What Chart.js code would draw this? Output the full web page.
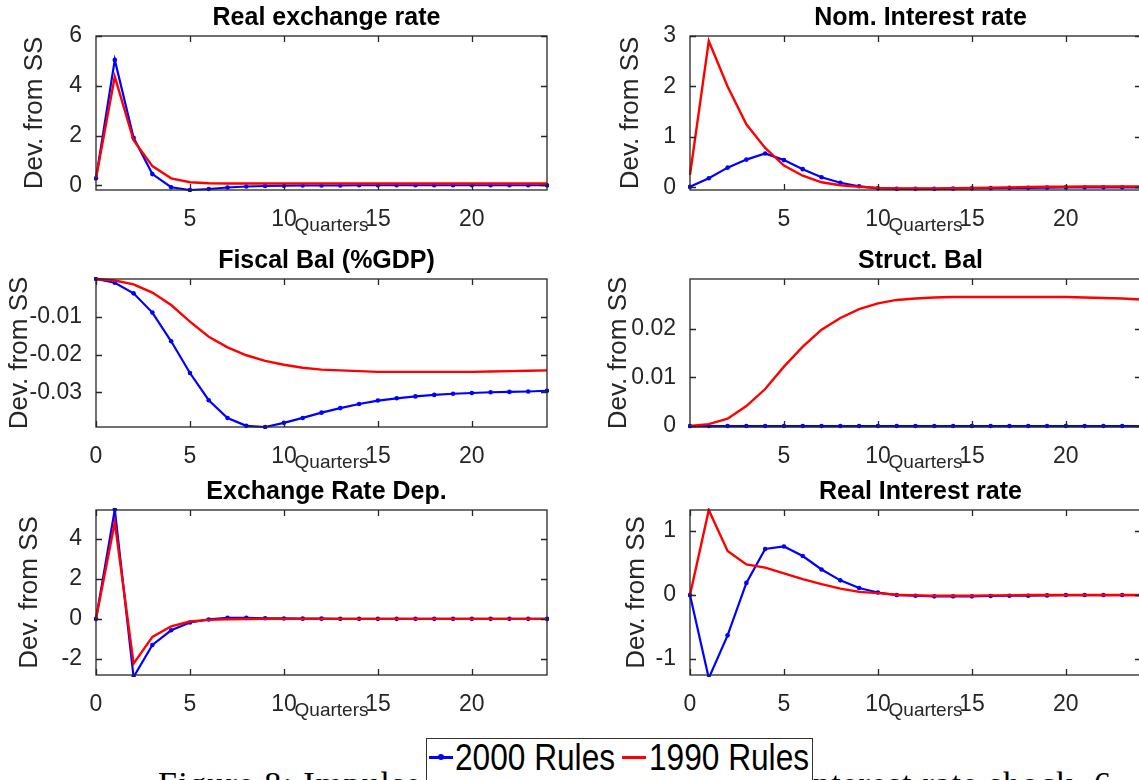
<!DOCTYPE html>
<html>
<head>
<meta charset="utf-8">
<script src="https://cdn.jsdelivr.net/npm/chart.js@4.4.1/dist/chart.umd.min.js"></script>
<style>
  html, body { margin: 0; padding: 0; background: #fff; }
  body { width: 1139px; height: 780px; overflow: hidden; position: relative; }
  canvas { position: absolute; }
  #caption { position: absolute; left: 158px; top: 767px; font: 34px "Liberation Serif", "DejaVu Serif", serif; line-height: 34px; letter-spacing: 1.3px; white-space: nowrap; color: #000; }
  #legend { position: absolute; left: 426px; top: 738px; width: 385px; height: 60px; border: 1.5px solid #333; background: #fff; font: 37px "Liberation Sans", Arial, sans-serif; line-height: 37px; color: #000; }
  #legend .sw { position: absolute; top: 17px; width: 24px; height: 3px; }
  #legend .txt { position: absolute; top: 0px; white-space: nowrap; transform: scaleX(0.855); transform-origin: 0 0; }
  #legend .dot { position: absolute; left: 9px; top: -2px; width: 6px; height: 6px; border-radius: 50%; background: #0000ff; }
</style>
</head>
<body>
<div id="caption">Figure 8: Impulse response functions to an interest rate shock&nbsp;&nbsp;6</div>
<canvas id="p1"></canvas>
<canvas id="p2"></canvas>
<canvas id="p3"></canvas>
<canvas id="p4"></canvas>
<canvas id="p5"></canvas>
<canvas id="p6"></canvas>
<div id="legend">
  <span class="sw" style="left:1.5px;background:#0000ff"><span class="dot"></span></span>
  <span class="txt" style="left:28px">2000 Rules</span>
  <span class="sw" style="left:195px;background:#ff0000"></span>
  <span class="txt" style="left:222px">1990 Rules</span>
</div>
<script>
// quarters after the shock
const quarters = [0, 1, 2, 3, 4, 5, 6, 7, 8, 9, 10, 11, 12, 13, 14, 15, 16, 17, 18, 19, 20, 21, 22, 23, 24];
const xTicksNoZero = [5, 10, 15, 20];
const xTicksZero = [0, 5, 10, 15, 20];

// Real exchange rate
const realEx2000 = [0.28, 5.04, 1.91, 0.45, -0.08, -0.19, -0.15, -0.09, -0.05, -0.03, -0.02, -0.01, -0.01, -0.01, 0, 0, 0, 0, 0, 0, 0, 0, 0, 0, 0];
const realEx1990 = [0.28, 4.37, 1.81, 0.77, 0.28, 0.12, 0.08, 0.07, 0.07, 0.07, 0.07, 0.07, 0.07, 0.07, 0.07, 0.07, 0.07, 0.07, 0.07, 0.07, 0.07, 0.07, 0.07, 0.07, 0.07];
const realExTicks = [0, 2, 4, 6];

// Nom. interest rate
const nomRate2000 = [0.01, 0.18, 0.39, 0.55, 0.67, 0.54, 0.36, 0.2, 0.09, 0.02, -0.02, -0.03, -0.03, -0.03, -0.025, -0.02, -0.015, -0.01, -0.01, -0.005, 0, 0, 0, 0, 0];
const nomRate1990 = [0.25, 2.9, 2.0, 1.25, 0.78, 0.43, 0.23, 0.1, 0.04, 0.01, -0.01, -0.02, -0.02, -0.02, -0.015, -0.01, -0.005, 0, 0.005, 0.01, 0.01, 0.015, 0.015, 0.015, 0.015];
const nomRateTicks = [0, 1, 2, 3];

// Fiscal balance (%GDP)
const fiscal2000 = [0, -0.001, -0.0038, -0.0089, -0.0165, -0.0249, -0.0321, -0.0368, -0.0389, -0.0392, -0.0381, -0.0368, -0.0354, -0.0342, -0.0331, -0.0322, -0.0316, -0.0311, -0.0307, -0.0304, -0.0302, -0.03, -0.0299, -0.0298, -0.0296];
const fiscal1990 = [0, -0.0004, -0.0014, -0.0036, -0.0069, -0.0113, -0.0153, -0.0181, -0.0202, -0.0217, -0.0227, -0.0235, -0.024, -0.0242, -0.0244, -0.0246, -0.0246, -0.0246, -0.0246, -0.0246, -0.0246, -0.0245, -0.0244, -0.0243, -0.0242];
const fiscalTicks = [-0.03, -0.02, -0.01];

// Structural balance
const struct2000 = [0, 0, 0, 0, 0, 0, 0, 0, 0, 0, 0, 0, 0, 0, 0, 0, 0, 0, 0, 0, 0, 0, 0, 0, 0];
const struct1990 = [0, 0.0004, 0.0015, 0.0041, 0.0076, 0.0122, 0.0163, 0.0198, 0.0222, 0.024, 0.0252, 0.0259, 0.0262, 0.0264, 0.0265, 0.0265, 0.0265, 0.0265, 0.0265, 0.0265, 0.0265, 0.0264, 0.0263, 0.0262, 0.026];
const structTicks = [0, 0.01, 0.02];

// Exchange rate depreciation
const exDep2000 = [0, 5.45, -2.9, -1.3, -0.57, -0.18, -0.03, 0.05, 0.05, 0.03, 0.02, 0.01, 0.01, 0, 0, 0, 0, 0, 0, 0, 0, 0, 0, 0, 0];
const exDep1990 = [0, 4.82, -2.23, -0.9, -0.37, -0.13, -0.05, -0.02, -0.01, 0, 0, 0, 0, 0, 0, 0, 0, 0, 0, 0, 0, 0, 0, 0, 0];
const exDepTicks = [-2, 0, 2, 4];

// Real interest rate
const realRate2000 = [0, -1.3, -0.63, 0.19, 0.72, 0.76, 0.61, 0.4, 0.23, 0.11, 0.04, 0, -0.01, -0.02, -0.02, -0.02, -0.015, -0.01, -0.01, -0.005, 0, 0, 0, 0, 0];
const realRate1990 = [0, 1.33, 0.69, 0.48, 0.43, 0.34, 0.25, 0.17, 0.1, 0.05, 0.03, 0.005, -0.005, -0.01, -0.01, -0.01, -0.005, -0.005, 0, 0, 0, 0, 0, 0, 0];
const realRateTicks = [-1, 0, 1];

const BLUE = '#0000ff';
const RED = '#ff0000';
const INK = '#262626';
const FONT = '"Liberation Sans", Arial, Helvetica, sans-serif';

// box around the axes, inward ticks on all four sides, panel title, "Quarters"
const frame = {
  id: 'frame',
  afterDraw(chart, args, opts) {
    const { ctx, chartArea: a, scales: { x, y } } = chart;
    ctx.save();
    ctx.strokeStyle = INK;
    ctx.lineWidth = 1.3;
    ctx.beginPath();
    x.ticks.forEach(t => {
      const px = Math.round(x.getPixelForValue(t.value)) + 0.5;
      ctx.moveTo(px, a.bottom); ctx.lineTo(px, a.bottom - 6);
      ctx.moveTo(px, a.top); ctx.lineTo(px, a.top + 6);
    });
    y.ticks.forEach(t => {
      const py = Math.round(y.getPixelForValue(t.value)) + 0.5;
      ctx.moveTo(a.left, py); ctx.lineTo(a.left + 6, py);
      ctx.moveTo(a.right, py); ctx.lineTo(a.right - 6, py);
    });
    ctx.stroke();
    ctx.strokeRect(a.left, a.top, a.right - a.left, a.bottom - a.top);

    const cx = (a.left + a.right) / 2;
    ctx.textAlign = 'center';
    ctx.textBaseline = 'middle';
    ctx.fillStyle = '#000';
    ctx.font = 'bold 25px ' + FONT;
    ctx.fillText(opts.title, cx + 5, a.top - 18);
    ctx.fillStyle = INK;
    ctx.font = '19px ' + FONT;
    ctx.fillText('Quarters', cx + 10, a.bottom + 36);
    ctx.restore();
  }
};

function makePanel(id, box, title, s2000, s1990, yMin, yMax, yTicks, xTicks, yTitleX) {
  const canvas = document.getElementById(id);
  canvas.width = box.w;
  canvas.height = box.h;
  canvas.style.left = box.l + 'px';
  canvas.style.top = box.t + 'px';
  new Chart(canvas, {
    type: 'line',
    data: {
      datasets: [
        {
          label: '1990 Rules',
          data: quarters.map((q, i) => ({ x: q, y: s1990[i] })),
          borderColor: RED, backgroundColor: RED,
          borderWidth: 2.4, pointRadius: 0, order: 0, clip: 2
        },
        {
          label: '2000 Rules',
          data: quarters.map((q, i) => ({ x: q, y: s2000[i] })),
          borderColor: BLUE, backgroundColor: BLUE, pointBackgroundColor: BLUE,
          borderWidth: 2.2, pointRadius: 2.3, pointBorderWidth: 0, order: 1, clip: 2
        }
      ]
    },
    options: {
      responsive: false,
      animation: false,
      events: [],
      layout: { padding: { top: box.plotTop - box.t, right: box.l + box.w - box.plotRight, left: 0, bottom: 0 } },
      elements: { line: { tension: 0 } },
      plugins: { legend: { display: false }, tooltip: { enabled: false }, frame: { title: title } },
      scales: {
        x: {
          type: 'linear', min: 0, max: 24,
          grid: { display: false }, border: { display: false },
          afterBuildTicks: s => { s.ticks = xTicks.map(v => ({ value: v })); },
          afterFit: s => { s.height = box.t + box.h - box.plotBottom; },
          ticks: { font: { family: FONT, size: 23 }, color: INK, padding: 8, maxRotation: 0, autoSkip: false }
        },
        y: {
          type: 'linear', min: yMin, max: yMax,
          grid: { display: false }, border: { display: false },
          afterBuildTicks: s => { s.ticks = yTicks.map(v => ({ value: v })); },
          afterFit: s => { s.width = box.plotLeft - box.l; },
          ticks: { font: { family: FONT, size: 23 }, color: INK, padding: 6, callback: v => String(v) },
          title: { display: true, text: 'Dev. from SS', color: INK, font: { family: FONT, size: 26 }, padding: { top: yTitleX - 15.6, bottom: 0 } }
        }
      }
    },
    plugins: [frame]
  });
}

const leftCol = { l: 0, w: 565, plotLeft: 96, plotRight: 547 };
const rightCol = { l: 565, w: 585, plotLeft: 690, plotRight: 1141 };
const row1 = { t: 0, h: 240, plotTop: 36, plotBottom: 190 };
const row2 = { t: 240, h: 235, plotTop: 279, plotBottom: 427 };
const row3 = { t: 475, h: 255, plotTop: 510, plotBottom: 675 };

makePanel('p1', { ...leftCol, ...row1 }, 'Real exchange rate', realEx2000, realEx1990, -0.19, 6, realExTicks, xTicksNoZero, 35);
makePanel('p2', { ...rightCol, ...row1 }, 'Nom. Interest rate', nomRate2000, nomRate1990, -0.053, 3, nomRateTicks, xTicksNoZero, 66);
makePanel('p3', { ...leftCol, ...row2 }, 'Fiscal Bal (%GDP)', fiscal2000, fiscal1990, -0.0392, 0, fiscalTicks, xTicksZero, 20);
makePanel('p4', { ...rightCol, ...row2 }, 'Struct. Bal', struct2000, struct1990, -0.0002, 0.0302, structTicks, xTicksNoZero, 54);
makePanel('p5', { ...leftCol, ...row3 }, 'Exchange Rate Dep.', exDep2000, exDep1990, -2.8, 5.43, exDepTicks, xTicksZero, 30);
makePanel('p6', { ...rightCol, ...row3 }, 'Real Interest rate', realRate2000, realRate1990, -1.25, 1.33, realRateTicks, xTicksZero, 72);
</script>
</body>
</html>
